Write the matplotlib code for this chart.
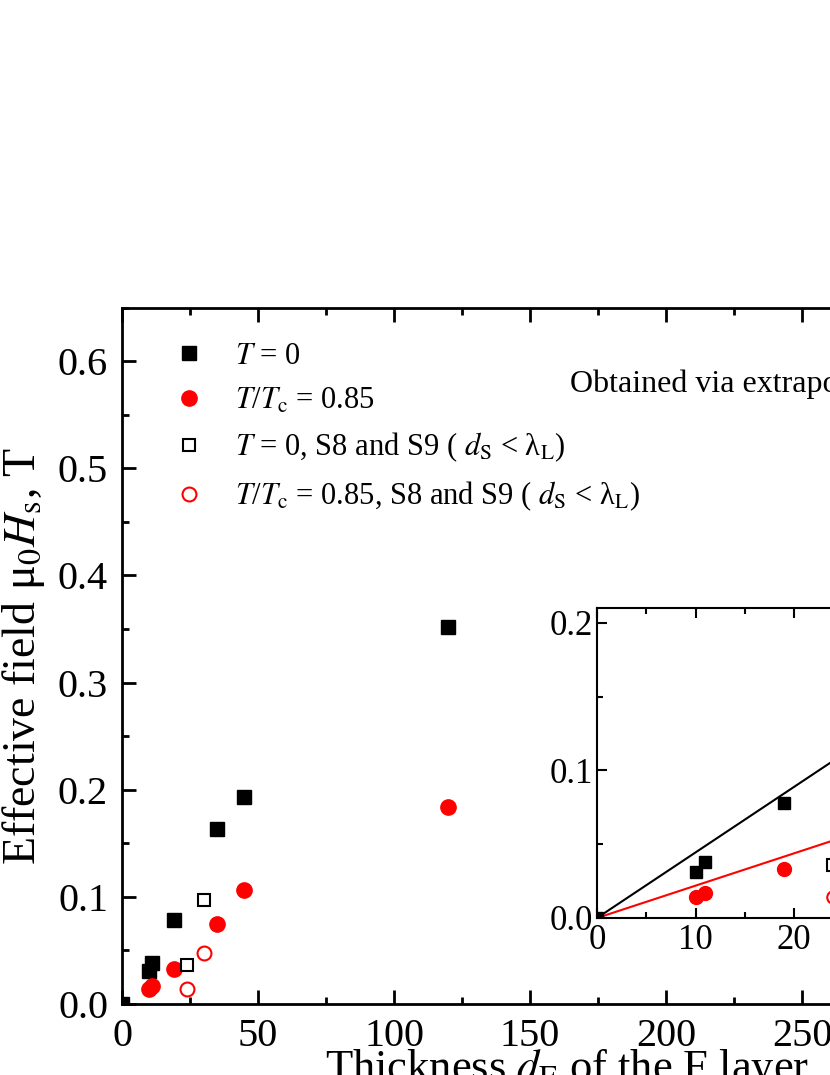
import matplotlib
matplotlib.use("Agg")
import matplotlib.pyplot as plt
from matplotlib.ticker import MultipleLocator

plt.rcParams["font.family"] = ["Liberation Serif", "DejaVu Serif"]
plt.rcParams["mathtext.fontset"] = "stix"

# main data
d_t0 = [0, 10, 11, 19, 35, 45, 120]
h_t0 = [0.0, 0.031, 0.038, 0.078, 0.163, 0.193, 0.352]
d_t85 = [10, 11, 19, 35, 45, 120]
h_t85 = [0.014, 0.017, 0.033, 0.075, 0.106, 0.184]
d_s89 = [24, 30]
h_s89_t0 = [0.036, 0.097]
h_s89_t85 = [0.014, 0.048]
# linear fits through origin (inset)
slope_t0 = 0.00444
slope_t85 = 0.00219
fit_x = [0, 30]

fig = plt.figure(figsize=(8.3, 10.75), dpi=100)
ax = fig.add_axes([122 / 830, 71 / 1075, 816 / 830, 696.5 / 1075])


def style(a, xmin, ymin, size, lw):
    a.xaxis.set_minor_locator(MultipleLocator(xmin))
    a.yaxis.set_minor_locator(MultipleLocator(ymin))
    a.tick_params(which="both", direction="in", top=True, right=True, labelsize=size, width=lw)
    a.tick_params(which="major", length=10)
    a.tick_params(which="minor", length=5)
    for s in a.spines.values():
        s.set_linewidth(lw)


ax.plot(d_t0, h_t0, "s", color="black", ms=10, label=r"$T$ = 0", clip_on=True)
ax.plot(d_t85, h_t85, "o", color="red", ms=11, label=r"$T$/$T_\mathrm{c}$ = 0.85")
ax.plot(d_s89, h_s89_t0, "s", mfc="white", mec="black", mew=1.5, ms=9,
        label=r"$T$ = 0, S8 and S9 ( $d_\mathrm{S}$ < λ$_\mathrm{L}$)")
ax.plot(d_s89, h_s89_t85, "o", mfc="white", mec="red", mew=1.5, ms=10,
        label=r"$T$/$T_\mathrm{c}$ = 0.85, S8 and S9 ( $d_\mathrm{S}$ < λ$_\mathrm{L}$)")
ax.set_xlim(0, 300)
ax.set_ylim(0, 0.65)
ax.xaxis.set_major_locator(MultipleLocator(50))
ax.yaxis.set_major_locator(MultipleLocator(0.1))
ax.yaxis.set_major_formatter(lambda v, p: f"{v:.1f}")
style(ax, 25, 0.05, 29, 2)
ax.tick_params(axis="x", pad=10)
ax.tick_params(axis="y", pad=10)
ax.set_ylabel(r"Effective field μ$_0$$H_\mathrm{s}$, T", fontsize=33, labelpad=8)
ax.set_xlabel(r"Thickness $d_\mathrm{F}$ of the F layer, nm", fontsize=32)
ax.xaxis.label.set_horizontalalignment("left")
ax.xaxis.set_label_coords(0.249, -0.062)
ax.legend(loc="upper left", bbox_to_anchor=(0.03, 0.99), frameon=False, fontsize=22,
          handletextpad=1.0, labelspacing=0.5, handlelength=1.0)
ax.text(0.549, 0.89, "Obtained via extrapolation to zero temperature",
        transform=ax.transAxes, fontsize=23, va="center")

ins = fig.add_axes([597 / 830, 157 / 1075, 295.5 / 830, 310 / 1075])
ins.plot(fit_x, [slope_t0 * x for x in fit_x], color="black", lw=1.5)
ins.plot(fit_x, [slope_t85 * x for x in fit_x], color="red", lw=1.5)
ins.plot(d_t0, h_t0, "s", color="black", ms=9)
ins.plot(d_t85, h_t85, "o", color="red", ms=10)
ins.plot(d_s89, h_s89_t0, "s", mfc="white", mec="black", mew=1.5, ms=8)
ins.plot(d_s89, h_s89_t85, "o", mfc="white", mec="red", mew=1.5, ms=9)
ins.set_xlim(0, 30)
ins.set_ylim(0, 0.21)
ins.xaxis.set_major_locator(MultipleLocator(10))
ins.yaxis.set_major_locator(MultipleLocator(0.1))
ins.yaxis.set_major_formatter(lambda v, p: f"{v:.1f}")
style(ins, 5, 0.05, 25, 1.5)
ins.tick_params(which="major", length=7)
ins.tick_params(which="minor", length=4)
ins.tick_params(axis="x", pad=4)
ins.tick_params(axis="y", pad=3)

fig.savefig("out.png", dpi=100)
